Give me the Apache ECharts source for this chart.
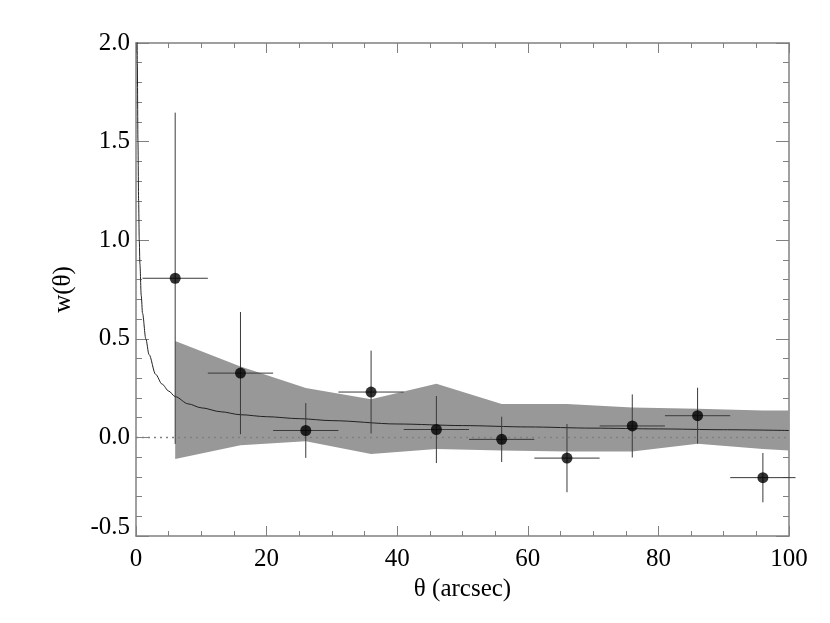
<!DOCTYPE html>
<html>
<head>
<meta charset="utf-8">
<script src="https://cdn.jsdelivr.net/npm/echarts@6/dist/echarts.min.js"></script>
<style>
  html, body { margin: 0; padding: 0; background: #fff; }
  #chart { width: 830px; height: 623px; }
</style>
</head>
<body>
<div id="chart"></div>
<script>
// binned measurements
const thetaBins = [6, 16, 26, 36, 46, 56, 66, 76, 86, 96];
const wValues = [0.807, 0.326, 0.035, 0.23, 0.04, -0.01, -0.105, 0.058, 0.11, -0.204];
const wErrors = [0.84, 0.31, 0.139, 0.21, 0.17, 0.115, 0.173, 0.16, 0.142, 0.125];
const thetaErrors = [5, 5, 5, 5, 5, 5, 5, 5, 5, 5];

// grey envelope
const bandTheta = [6, 16, 26, 36, 46, 56, 66, 76, 86, 96, 100];
const bandUpper = [0.489, 0.359, 0.25, 0.194, 0.272, 0.17, 0.17, 0.152, 0.145, 0.137, 0.137];
const bandLower = [-0.109, -0.04, -0.02, -0.084, -0.059, -0.066, -0.071, -0.071, -0.032, -0.059, -0.066];

// fitted curve
const fitTheta = [0.15, 0.2, 0.3, 0.4, 0.5, 0.6, 0.8, 1, 1.5, 2, 3, 4, 5, 6, 8, 10, 13, 16, 20, 25, 30, 40, 50, 60, 70, 80, 90, 100];
const fitW = [2.3, 1.9, 1.5, 1.2, 1.0, 0.88, 0.72, 0.63, 0.5, 0.42, 0.32, 0.27, 0.235, 0.207, 0.17, 0.15, 0.13, 0.115, 0.105, 0.095, 0.085, 0.068, 0.06, 0.053, 0.047, 0.043, 0.039, 0.035];

// zero reference
const zeroTheta = [0, 100];
const zeroW = [0, 0];

const xTicks = { min: 0, max: 100, interval: 20 };
const yTicks = { min: -0.5, max: 2.0, interval: 0.5 };

let myChart = echarts.init(document.getElementById('chart'));

const font = '"Liberation Serif", "Times New Roman", serif';
const axisColor = '#808080';

function axisBase(show, extra) {
  return Object.assign({
    type: 'value',
    axisLine: { show: true, onZero: false, lineStyle: { color: axisColor, width: 1.5 } },
    axisTick: { show: true, inside: true, lineStyle: { color: axisColor, width: 1 } },
    minorTick: { show: true, lineStyle: { color: axisColor, width: 1 } },
    splitLine: { show: false },
    axisLabel: { show: show, color: '#000', fontFamily: font, fontSize: 25 }
  }, extra);
}

let option = {
  animation: false,
  backgroundColor: '#fff',
  grid: { left: 136, right: 41, top: 43, bottom: 87 },
  xAxis: [
    axisBase(true, Object.assign({}, xTicks, {
      position: 'bottom',
      name: 'θ (arcsec)',
      nameLocation: 'middle',
      nameGap: 38,
      nameTextStyle: { color: '#000', fontFamily: font, fontSize: 25 },
      axisTick: { show: true, inside: true, length: 10, lineStyle: { color: axisColor } },
      minorTick: { show: true, splitNumber: 4, length: 5, lineStyle: { color: axisColor } },
      axisLabel: { color: '#000', fontFamily: font, fontSize: 25, margin: 11 }
    })),
    axisBase(false, Object.assign({}, xTicks, {
      position: 'top',
      axisTick: { show: true, inside: true, length: 10, lineStyle: { color: axisColor } },
      minorTick: { show: true, splitNumber: 4, length: 5, lineStyle: { color: axisColor } }
    }))
  ],
  yAxis: [
    axisBase(true, Object.assign({}, yTicks, {
      position: 'left',
      name: 'w(θ)',
      nameLocation: 'middle',
      nameGap: 60,
      nameTextStyle: { color: '#000', fontFamily: font, fontSize: 25 },
      axisTick: { show: true, inside: true, length: 13, lineStyle: { color: axisColor } },
      minorTick: { show: true, splitNumber: 5, length: 6, lineStyle: { color: axisColor } },
      axisLabel: {
        color: '#000', fontFamily: font, fontSize: 25, margin: 6,
        formatter: v => v === yTicks.min ? '{low|' + v.toFixed(1) + '}' : v.toFixed(1),
        rich: { low: { fontFamily: font, fontSize: 25, color: '#000', padding: [0, 0, 18, 0] } }
      }
    })),
    axisBase(false, Object.assign({}, yTicks, {
      position: 'right',
      axisTick: { show: true, inside: true, length: 13, lineStyle: { color: axisColor } },
      minorTick: { show: true, splitNumber: 5, length: 6, lineStyle: { color: axisColor } }
    }))
  ],
  series: [
    {
      // envelope polygon
      type: 'custom',
      z: 1,
      data: bandTheta.map((t, i) => [t, bandLower[i], bandUpper[i]]),
      renderItem: function (params, api) {
        if (params.dataIndex !== 0) return;
        const upper = bandTheta.map((t, i) => api.coord([t, bandUpper[i]]));
        const lower = bandTheta.map((t, i) => api.coord([t, bandLower[i]])).reverse();
        return {
          type: 'polygon',
          shape: { points: upper.concat(lower) },
          style: { fill: '#989898', stroke: null }
        };
      }
    },
    {
      type: 'line',
      z: 2,
      data: zeroTheta.map((t, i) => [t, zeroW[i]]),
      symbol: 'none',
      lineStyle: { color: '#808080', width: 1.5, type: [2, 4] }
    },
    {
      type: 'line',
      z: 3,
      data: fitTheta.map((t, i) => [t, fitW[i]]),
      symbol: 'none',
      smooth: 0.3,
      smoothMonotone: 'x',
      clip: true,
      lineStyle: { color: '#222', width: 1 }
    },
    {
      // error bars
      type: 'custom',
      z: 4,
      data: thetaBins.map((t, i) => [t, wValues[i], wErrors[i], thetaErrors[i]]),
      renderItem: function (params, api) {
        const x = api.value(0), y = api.value(1), ey = api.value(2), ex = api.value(3);
        const top = api.coord([x, y + ey]);
        const bot = api.coord([x, y - ey]);
        const left = api.coord([x - ex, y]);
        const right = api.coord([x + ex, y]);
        const style = { stroke: '#3a3a3a', lineWidth: 1 };
        return {
          type: 'group',
          children: [
            { type: 'line', shape: { x1: top[0], y1: top[1], x2: bot[0], y2: bot[1] }, style: style },
            { type: 'line', shape: { x1: left[0], y1: left[1], x2: right[0], y2: right[1] }, style: style }
          ]
        };
      }
    },
    {
      type: 'scatter',
      z: 5,
      data: thetaBins.map((t, i) => [t, wValues[i]]),
      symbol: 'circle',
      symbolSize: 11,
      itemStyle: { color: '#000' }
    }
  ]
};

myChart.setOption(option);
</script>
</body>
</html>
